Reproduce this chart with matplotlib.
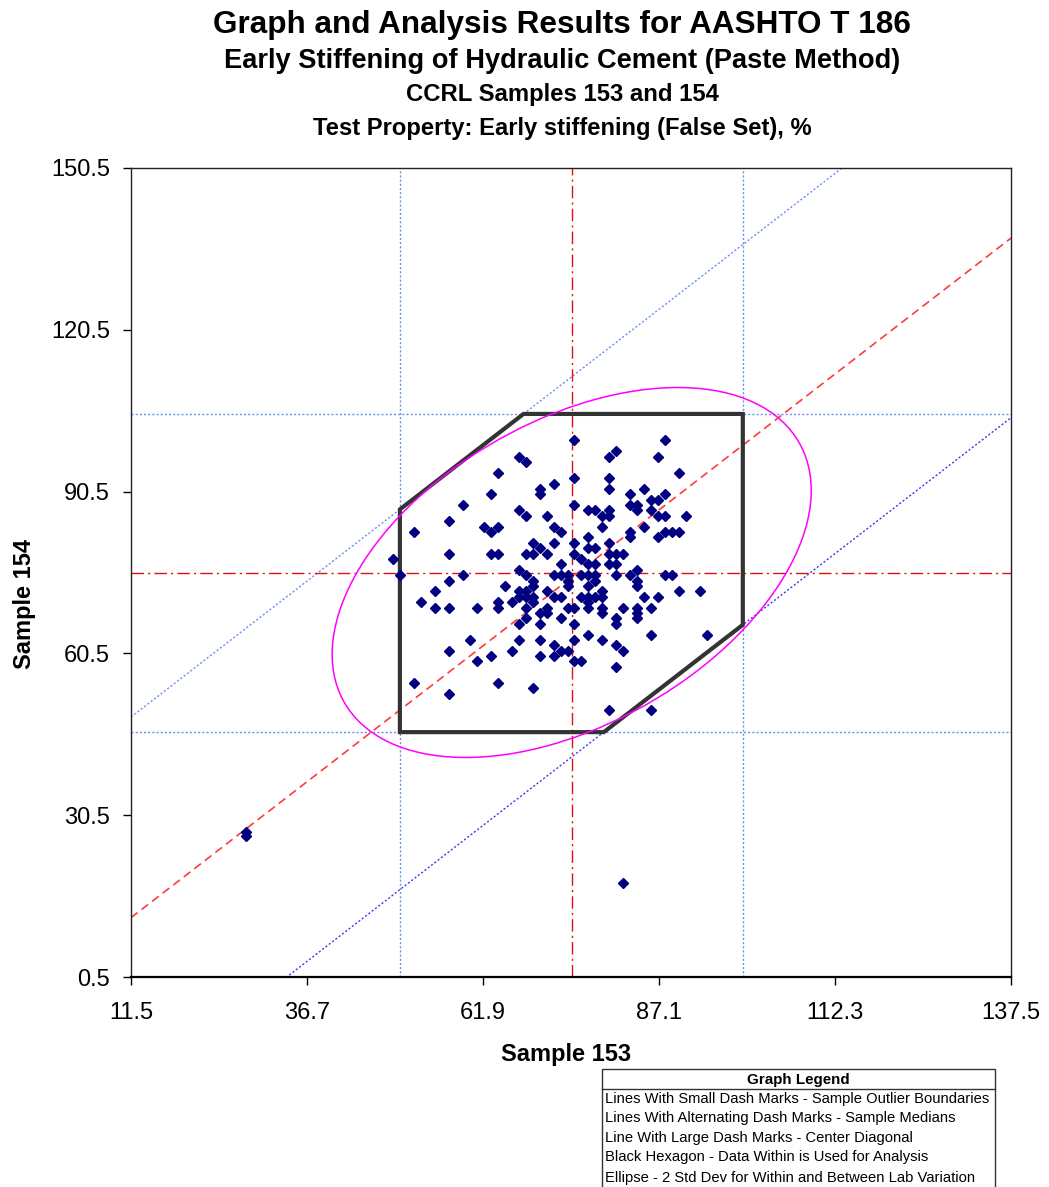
import numpy as np
import matplotlib
matplotlib.use("Agg")
import matplotlib.pyplot as plt
from matplotlib.patches import Ellipse, Polygon, Rectangle

plt.rcParams['font.family'] = ['Liberation Sans', 'DejaVu Sans']

# 読み取ったデータ (Sample 153, Sample 154)  -- 行ごとに y 値でまとめる
rows_y = [100, 98, 97, 96, 94, 93, 92, 91, 90, 89, 88, 87, 86, 85, 84, 83,
          82, 81, 80, 79, 78, 77, 76, 75, 74, 73, 72, 71, 70, 69, 68, 67,
          66, 64, 63, 62, 61, 60, 59, 58, 55, 54, 53, 50, 27.4, 26.6, 18]
rows_x = [
    [75, 88], [81], [67, 80, 87], [68], [64, 90], [75, 80], [72],
    [70, 80, 85], [63, 70, 83, 88], [86, 87], [59, 75, 83, 84],
    [67, 77, 78, 80, 84, 86], [68, 71, 79, 80, 87, 88, 91], [57],
    [62, 64, 72, 79, 85], [52, 63, 73, 83, 88, 89, 90], [77, 83, 87],
    [69, 72, 75, 80], [70, 77, 78],
    [57, 63, 64, 68, 69, 71, 75, 80, 81, 82], [49, 76],
    [73, 77, 78, 80, 81], [67, 84],
    [50, 59, 68, 72, 73, 74, 76, 77, 78, 81, 83, 88, 89],
    [57, 69, 74, 78, 84], [65, 69, 74, 77, 84],
    [55, 67, 68, 71, 79, 90, 93],
    [67, 68, 69, 72, 73, 76, 77, 78, 79, 85, 87],
    [53, 64, 66, 69, 77],
    [55, 57, 61, 64, 68, 71, 74, 75, 77, 79, 82, 84, 86],
    [70, 71, 79, 84], [68, 73, 81, 84], [67, 70, 75, 81], [77, 86, 94],
    [60, 67, 70, 75, 79], [72, 81], [57, 66, 73, 74, 82], [63, 70, 72],
    [61, 75, 76], [81], [52, 64], [69], [57], [80, 86], [28], [28], [82]]

# 中央値・外れ値境界・対角線
median_x = 74.6
median_y = 75.5
bound_x = [50.0, 99.1]
bound_y = [45.9, 104.9]
diag_upper = 37.2
diag_lower = -33.3
diag_center = 0.0
# 楕円 (2 Std Dev)
ell_a = 41.2
ell_b = 25.6

x_ticks = [11.5, 36.7, 61.9, 87.1, 112.3, 137.5]
y_ticks = [0.5, 30.5, 60.5, 90.5, 120.5, 150.5]

legend_title = "Graph Legend"
legend_items = [
    "Lines With Small Dash Marks - Sample Outlier Boundaries",
    "Lines With Alternating Dash Marks - Sample Medians",
    "Line With Large Dash Marks - Center Diagonal",
    "Black Hexagon - Data Within is Used for Analysis",
    "Ellipse - 2 Std Dev for Within and Between Lab Variation",
]

s153 = []
s154 = []
for yv, xs in zip(rows_y, rows_x):
    for xv in xs:
        s153.append(xv)
        s154.append(yv)

fig = plt.figure(figsize=(10.49, 11.87), dpi=100)
ax = fig.add_axes((131 / 1049, 1 - 977 / 1187, 880 / 1049, 809 / 1187))
ax.set_xlim(x_ticks[0], x_ticks[-1])
ax.set_ylim(y_ticks[0], y_ticks[-1])

# 外れ値境界 (細かい点線)
light_blue = '#6a8ff0'
for b in bound_x:
    ax.axvline(b, color=light_blue, lw=1.0, ls=(0, (1.5, 1.5)))
for b in bound_y:
    ax.axhline(b, color=light_blue, lw=1.0, ls=(0, (1.5, 1.5)))
xx = np.array(x_ticks[::5])
ax.plot(xx, xx + diag_upper, color=light_blue, lw=1.0, ls=(0, (1.5, 1.5)))
ax.plot(xx, xx + diag_lower, color='#3a3af0', lw=1.0, ls=(0, (1.5, 1.5)))

# 中央値 (一点鎖線)
ax.axvline(median_x, color='#e01010', lw=1.0, ls=(0, (9, 3, 1.5, 3)))
ax.axhline(median_y, color='#e01010', lw=1.0, ls=(0, (9, 3, 1.5, 3)))

# 中央対角線 (破線)
ax.plot(xx, xx + diag_center, color='#ff3b3b', lw=1.2, ls=(0, (5, 3)))

# 六角形
hexagon = [
    (bound_x[0], bound_x[0] + diag_upper),
    (bound_y[1] - diag_upper, bound_y[1]),
    (bound_x[1], bound_y[1]),
    (bound_x[1], bound_x[1] + diag_lower),
    (bound_y[0] - diag_lower, bound_y[0]),
    (bound_x[0], bound_y[0]),
]
ax.add_patch(Polygon(hexagon, closed=True, fill=False, ec='#333333', lw=3.0,
                     zorder=4))

# 楕円
ax.add_patch(Ellipse((median_x, median_y), 2 * ell_a, 2 * ell_b, angle=45,
                     fill=False, ec='#ff00ff', lw=1.1, zorder=4))

# データ点
ax.plot(s153, s154, ls='none', marker='D', ms=4.8, color='#000080',
        mec='#000080', zorder=5)

ax.set_xticks(x_ticks)
ax.set_xticklabels([f"{t}" for t in x_ticks])
ax.set_yticks(y_ticks)
ax.set_yticklabels([f"{t}" for t in y_ticks])
ax.tick_params(direction='out', length=6, width=1, labelsize=17)
ax.tick_params(axis='x', pad=12)
ax.tick_params(axis='y', pad=9)
for s in ax.spines.values():
    s.set_linewidth(1.0)
    s.set_color('#222222')
ax.spines['bottom'].set_linewidth(1.6)
ax.spines['bottom'].set_color('black')

fig.text(566 / 1049, 1 - 1055 / 1187, "Sample 153", ha='center', va='center',
         fontsize=17, fontweight='bold')
fig.text(25 / 1049, 1 - 604 / 1187, "Sample 154", ha='center', va='center',
         rotation=90, fontsize=17, fontweight='bold')

# タイトル
cx = 562 / 1049
fig.text(cx, 1 - 25 / 1187, "Graph and Analysis Results for AASHTO T 186",
         ha='center', va='center', fontsize=22.7, fontweight='bold')
fig.text(cx, 1 - 61 / 1187, "Early Stiffening of Hydraulic Cement (Paste Method)",
         ha='center', va='center', fontsize=19.6, fontweight='bold')
fig.text(cx, 1 - 95 / 1187, "CCRL Samples 153 and 154",
         ha='center', va='center', fontsize=17.2, fontweight='bold')
fig.text(cx, 1 - 128 / 1187, "Test Property: Early stiffening (False Set), %",
         ha='center', va='center', fontsize=17.1, fontweight='bold')

# 凡例の枠
lx0 = 602 / 1049
lx1 = 995 / 1049
ly_top = 1 - 1069 / 1187
fig.patches.append(Rectangle((lx0, -0.02), lx1 - lx0, ly_top + 0.02,
                             transform=fig.transFigure, fill=False,
                             ec='#333333', lw=1.0))
fig.add_artist(plt.Line2D([lx0, lx1], [1 - 1089 / 1187] * 2,
                          transform=fig.transFigure, color='#333333', lw=1.0))
fig.text((lx0 + lx1) / 2, 1 - 1080 / 1187, legend_title, ha='center',
         va='center', fontsize=10.9, fontweight='bold')
row_px = [1099, 1118, 1138, 1157, 1178]
for txt, py in zip(legend_items, row_px):
    fig.text(605 / 1049, 1 - py / 1187, txt, ha='left', va='center',
             fontsize=10.6)

plt.savefig('out.png', dpi=100)
plt.close()
